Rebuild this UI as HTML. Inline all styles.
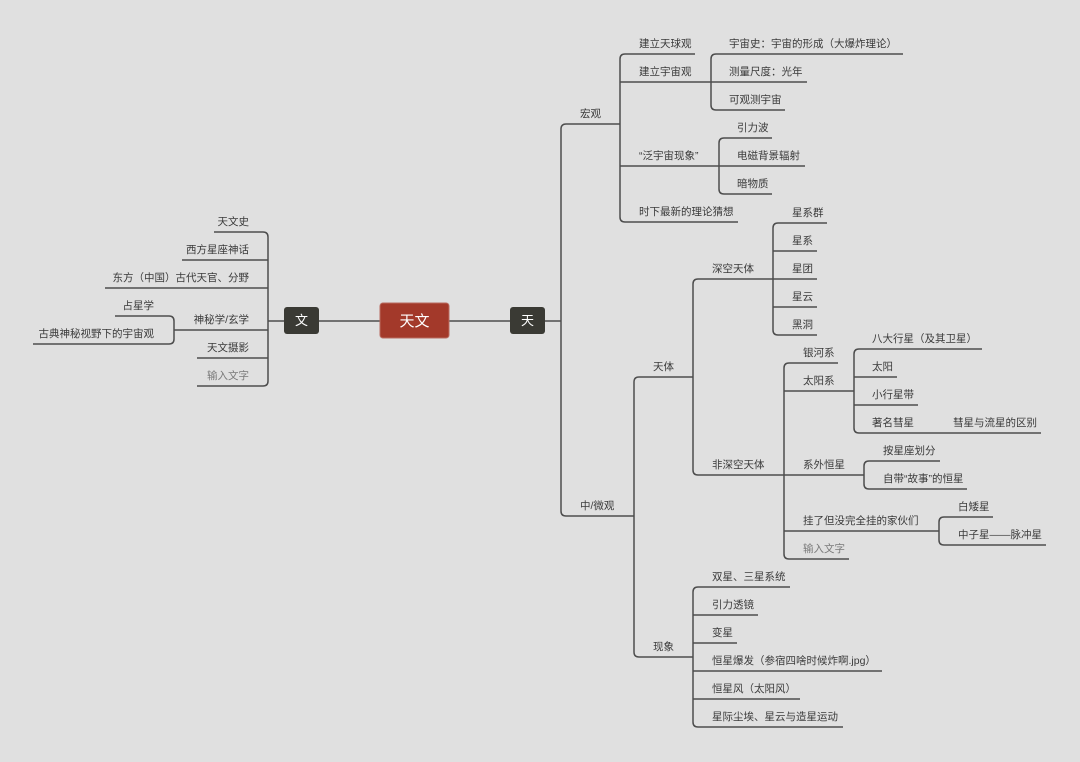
<!DOCTYPE html>
<html><head><meta charset="utf-8"><style>
html,body{margin:0;padding:0;background:#e0e0e0;}
svg{display:block;}
text{font-family:"Liberation Sans","Noto Sans CJK SC",sans-serif;font-size:10.5px;fill:#3a3a3a;}
.g{fill:#7a7a7a;}
.l{stroke:#4d4d4d;stroke-width:1.5;fill:none;}
.e{text-anchor:end;}
</style></head><body>
<svg width="1080" height="762" viewBox="0 0 1080 762">
<rect width="1080" height="762" fill="#e0e0e0"/>
<g class="l">
<path d="M319 321 H380 M449 321 H510 M545 321 H561"/>
<path d="M566 124 Q561 124 561 129 L561 511 Q561 516 566 516"/>
<path d="M566 124 H620 M566 516 H634"/>
<path d="M625 54 Q620 54 620 59 L620 217 Q620 222 625 222"/>
<path d="M625 54 H695 M620 82 H711 M620 166 H719 M625 222 H738"/>
<path d="M716 54 Q711 54 711 59 L711 105 Q711 110 716 110"/>
<path d="M716 54 H903 M711 82 H807 M716 110 H785"/>
<path d="M724 138 Q719 138 719 143 L719 189 Q719 194 724 194"/>
<path d="M724 138 H772 M719 166 H805 M724 194 H772"/>
<path d="M639 377 Q634 377 634 382 L634 652 Q634 657 639 657"/>
<path d="M639 377 H693 M639 657 H693"/>
<path d="M698 279 Q693 279 693 284 L693 470 Q693 475 698 475"/>
<path d="M698 279 H773 M698 475 H784"/>
<path d="M778 223 Q773 223 773 228 L773 330 Q773 335 778 335"/>
<path d="M778 223 H827 M773 251 H817 M773 279 H817 M773 307 H817 M778 335 H817"/>
<path d="M789 363 Q784 363 784 368 L784 554 Q784 559 789 559"/>
<path d="M789 363 H838 M784 391 H854 M784 475 H864 M784 531 H939 M789 559 H849"/>
<path d="M859 349 Q854 349 854 354 L854 428 Q854 433 859 433"/>
<path d="M859 349 H982 M854 377 H897 M854 405 H918 M859 433 H1041"/>
<path d="M869 461 Q864 461 864 466 L864 484 Q864 489 869 489"/>
<path d="M869 461 H940 M869 489 H967"/>
<path d="M944 517 Q939 517 939 522 L939 540 Q939 545 944 545"/>
<path d="M944 517 H993 M944 545 H1046"/>
<path d="M698 587 Q693 587 693 592 L693 722 Q693 727 698 727"/>
<path d="M698 587 H790 M693 615 H758 M693 643 H737 M693 671 H882 M693 699 H800 M698 727 H843"/>
<path d="M263 232 Q268 232 268 237 L268 381 Q268 386 263 386"/>
<path d="M263 232 H214 M268 260 H182 M268 288 H105 M268 330 H174 M268 358 H197 M263 386 H197 M268 321 H284"/>
<path d="M169 316 Q174 316 174 321 L174 339 Q174 344 169 344"/>
<path d="M169 316 H115 M169 344 H33"/>
</g>
<rect x="380" y="303" width="69" height="35" rx="3" fill="#a3392a" stroke="#b86a5f" stroke-width="1"/>
<text x="414.5" y="326" style="font-size:15px;fill:#fff;text-anchor:middle">天文</text>
<rect x="284" y="307" width="35" height="27" rx="3" fill="#3a3a34"/>
<text x="301.5" y="325" style="font-size:13px;fill:#fff;text-anchor:middle">文</text>
<rect x="510" y="307" width="35" height="27" rx="3" fill="#3a3a34"/>
<text x="527.5" y="325" style="font-size:13px;fill:#fff;text-anchor:middle">天</text>

<text x="580" y="117">宏观</text>
<text x="639" y="47">建立天球观</text>
<text x="639" y="75">建立宇宙观</text>
<text x="639" y="159">“泛宇宙现象”</text>
<text x="639" y="215">时下最新的理论猜想</text>
<text x="729" y="47">宇宙史：宇宙的形成（大爆炸理论）</text>
<text x="729" y="75">测量尺度：光年</text>
<text x="729" y="103">可观测宇宙</text>
<text x="737" y="131">引力波</text>
<text x="737" y="159">电磁背景辐射</text>
<text x="737" y="187">暗物质</text>
<text x="580" y="509">中/微观</text>
<text x="653" y="370">天体</text>
<text x="653" y="650">现象</text>
<text x="712" y="272">深空天体</text>
<text x="712" y="468">非深空天体</text>
<text x="792" y="216">星系群</text>
<text x="792" y="244">星系</text>
<text x="792" y="272">星团</text>
<text x="792" y="300">星云</text>
<text x="792" y="328">黑洞</text>
<text x="803" y="356">银河系</text>
<text x="803" y="384">太阳系</text>
<text x="803" y="468">系外恒星</text>
<text x="803" y="524">挂了但没完全挂的家伙们</text>
<text x="803" y="552" class="g">输入文字</text>
<text x="872" y="342">八大行星（及其卫星）</text>
<text x="872" y="370">太阳</text>
<text x="872" y="398">小行星带</text>
<text x="872" y="426">著名彗星</text>
<text x="953" y="426">彗星与流星的区别</text>
<text x="883" y="454">按星座划分</text>
<text x="883" y="482">自带“故事”的恒星</text>
<text x="958" y="510">白矮星</text>
<text x="958" y="538">中子星——脉冲星</text>
<text x="712" y="580">双星、三星系统</text>
<text x="712" y="608">引力透镜</text>
<text x="712" y="636">变星</text>
<text x="712" y="664">恒星爆发（参宿四啥时候炸啊.jpg）</text>
<text x="712" y="692">恒星风（太阳风）</text>
<text x="712" y="720">星际尘埃、星云与造星运动</text>

<text x="249" y="225" class="e">天文史</text>
<text x="249" y="253" class="e">西方星座神话</text>
<text x="249" y="281" class="e">东方（中国）古代天官、分野</text>
<text x="249" y="323" class="e">神秘学/玄学</text>
<text x="249" y="351" class="e">天文摄影</text>
<text x="249" y="379" class="e g">输入文字</text>
<text x="154" y="309" class="e">占星学</text>
<text x="154" y="337" class="e">古典神秘视野下的宇宙观</text>
</svg>
</body></html>
